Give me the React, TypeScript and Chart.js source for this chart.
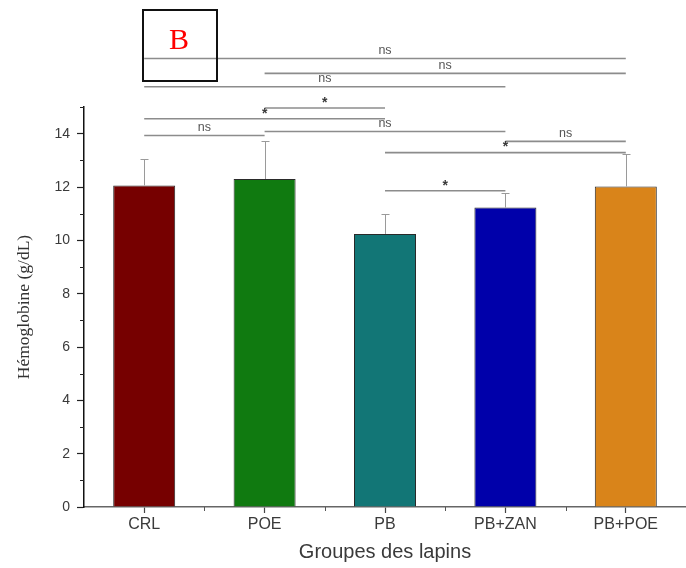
import React, { useEffect, useRef } from 'react';
import { Chart, registerables } from 'chart.js';

Chart.register(...registerables);

// ---- data ----
const categories = ['CRL', 'POE', 'PB', 'PB+ZAN', 'PB+POE'];
const means = [12.06, 12.3, 10.24, 11.23, 12.02];
const sdUpper = [0.99, 1.41, 0.74, 0.54, 1.21];
const yTickValues = [0, 2, 4, 6, 8, 10, 12, 14];
const yMinorTickValues = [1, 3, 5, 7, 9, 11, 13, 15];
const bracketFrom = ['CRL', 'POE', 'CRL', 'POE', 'CRL', 'CRL', 'POE', 'PB+ZAN', 'PB', 'PB'];
const bracketTo = ['PB+POE', 'PB+POE', 'PB+ZAN', 'PB', 'PB', 'POE', 'PB+ZAN', 'PB+POE', 'PB+POE', 'PB+ZAN'];
const bracketLevel = [16.82, 16.26, 15.76, 14.96, 14.56, 13.93, 14.08, 13.71, 13.29, 11.86];
const bracketLabel = ['ns', 'ns', 'ns', '*', '*', 'ns', 'ns', 'ns', '*', '*'];
const panelLabel = 'B';
const xTitle = 'Groupes des lapins';
const yTitle = 'Hémoglobine (g/dL)';

// ---- styles ----
const barColors = ['#760000', '#107a10', '#127676', '#0000aa', '#d9841a'];
const SANS = '"Liberation Sans", Arial, sans-serif';
const SERIF = '"Liberation Serif", "Times New Roman", serif';

const annotatePlugin = {
  id: 'annotate',
  afterDatasetsDraw(chart: any) {
    const { ctx, scales } = chart;
    const x = scales.x;
    const y = scales.y;
    const meta = chart.getDatasetMeta(0);
    ctx.save();
    // error bars (upper)
    ctx.strokeStyle = '#9a9a9a';
    ctx.lineWidth = 1;
    meta.data.forEach((bar: any, i: number) => {
      const px = Math.round(bar.x) + 0.5;
      const y0 = y.getPixelForValue(means[i]);
      const y1 = y.getPixelForValue(means[i] + sdUpper[i]);
      ctx.beginPath();
      ctx.moveTo(px, y0);
      ctx.lineTo(px, y1);
      ctx.moveTo(px - 4, Math.round(y1) + 0.5);
      ctx.lineTo(px + 4, Math.round(y1) + 0.5);
      ctx.stroke();
    });
    // bracket labels
    ctx.textAlign = 'center';
    ctx.textBaseline = 'middle';
    bracketLabel.forEach((lab, i) => {
      const a = x.getPixelForValue(categories.indexOf(bracketFrom[i]));
      const b = x.getPixelForValue(categories.indexOf(bracketTo[i]));
      const py = y.getPixelForValue(bracketLevel[i]);
      if (lab === '*') {
        ctx.font = `bold 14px ${SANS}`;
        ctx.fillStyle = '#3a3a3a';
        ctx.fillText(lab, (a + b) / 2, py - 5);
      } else {
        ctx.font = `12.5px ${SANS}`;
        ctx.fillStyle = '#555';
        ctx.fillText(lab, (a + b) / 2, py - 8);
      }
    });
    // minor ticks
    ctx.strokeStyle = '#222';
    ctx.lineWidth = 1;
    yMinorTickValues.forEach((v) => {
      const py = Math.round(y.getPixelForValue(v)) + 0.5;
      ctx.beginPath();
      ctx.moveTo(x.left - 4, py);
      ctx.lineTo(x.left, py);
      ctx.stroke();
    });
    ctx.strokeStyle = '#555';
    for (let i = 0; i < categories.length - 1; i++) {
      const px = Math.round((x.getPixelForValue(i) + x.getPixelForValue(i + 1)) / 2) + 0.5;
      ctx.beginPath();
      ctx.moveTo(px, y.bottom);
      ctx.lineTo(px, y.bottom + 4);
      ctx.stroke();
    }
    ctx.restore();
  },
};

export default function App() {
  const canvasRef = useRef<HTMLCanvasElement | null>(null);

  useEffect(() => {
    const canvas = canvasRef.current;
    if (!canvas) return;
    const bracketSets = bracketLabel.map((_, i) => ({
      type: 'line' as const,
      data: [
        { x: bracketFrom[i], y: bracketLevel[i] },
        { x: bracketTo[i], y: bracketLevel[i] },
      ],
      borderColor: '#8c8c8c',
      borderWidth: 1.6,
      pointRadius: 0,
      clip: false as any,
      fill: false,
    }));
    const chart = new Chart(canvas, {
      type: 'bar',
      data: {
        labels: categories,
        datasets: [
          {
            type: 'bar' as const,
            data: means,
            backgroundColor: barColors,
            borderColor: '#2a2a2a',
            borderWidth: 1,
            barPercentage: 0.515,
            categoryPercentage: 1,
          } as any,
          ...bracketSets,
        ],
      },
      options: {
        animation: false,
        responsive: false,
        layout: { padding: { top: 107, left: 0, right: 0, bottom: 0 } },
        plugins: { legend: { display: false }, tooltip: { enabled: false } },
        scales: {
          x: {
            type: 'category',
            offset: true,
            grid: { drawOnChartArea: false, offset: false, tickLength: 6, tickColor: '#444', tickWidth: 1.2 },
            border: { color: '#666', width: 1.5 },
            ticks: { color: '#3a3a3a', font: { family: SANS, size: 16 }, padding: 2, maxRotation: 0 },
            title: { display: true, text: xTitle, color: '#3a3a3a', font: { family: SANS, size: 20 }, padding: { top: 0, bottom: 4 } },
            afterFit: (s: any) => { s.height = 61; },
          },
          y: {
            type: 'linear',
            min: 0,
            max: 15,
            grid: { drawOnChartArea: false, tickLength: 7, tickColor: '#222', tickWidth: 1.2 },
            border: { color: '#111', width: 1.5 },
            ticks: { color: '#3a3a3a', font: { family: SANS, size: 14 }, padding: 7, stepSize: 2, includeBounds: false },
            afterBuildTicks: (s: any) => { s.ticks = yTickValues.map((v) => ({ value: v })); },
            title: { display: true, text: yTitle, color: '#333', font: { family: SERIF, size: 17.5 }, padding: { top: 14, bottom: 0 } },
            afterFit: (s: any) => { s.width = 84; },
          },
        },
      } as any,
      plugins: [annotatePlugin],
    });
    return () => chart.destroy();
  }, []);

  return (
    <div style={{ position: 'absolute', left: 0, top: 0, width: 686, height: 568, background: '#fff' }}>
      <canvas ref={canvasRef} width={686} height={568} style={{ display: 'block' }} />
      <div
        style={{
          position: 'absolute',
          left: 142,
          top: 9,
          width: 76,
          height: 73,
          border: '2px solid #111',
          boxSizing: 'border-box',
          pointerEvents: 'none',
        }}
      >
        <span
          style={{
            position: 'absolute',
            left: 0,
            width: 70,
            top: 13,
            textAlign: 'center',
            color: '#ff0000',
            fontFamily: SERIF,
            fontSize: 30,
            lineHeight: '30px',
          }}
        >
          {panelLabel}
        </span>
      </div>
    </div>
  );
}
